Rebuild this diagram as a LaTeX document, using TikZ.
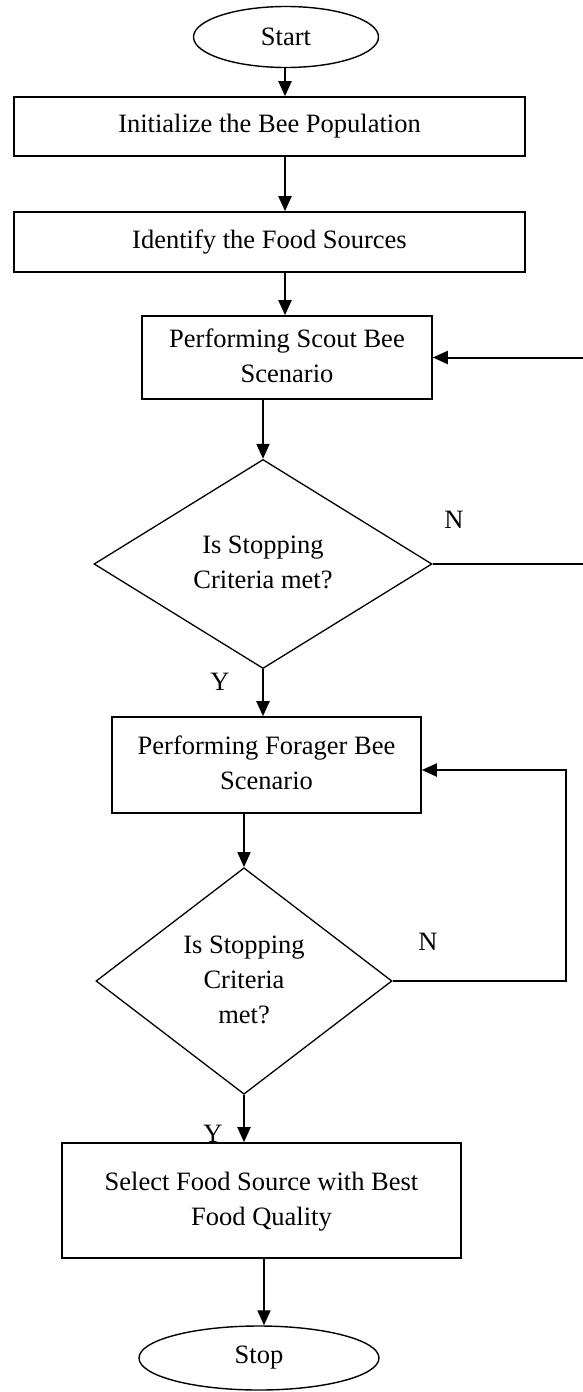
\documentclass[tikz,border=0pt]{standalone}
\usepackage{fontspec}
\setmainfont{Liberation Serif}
\usetikzlibrary{shapes.geometric,arrows.meta}
\newcommand\mlines[2]{\raisebox{#1}{\begin{tabular}{@{}c@{}}#2\end{tabular}}}
\begin{document}
\begin{tikzpicture}[x=1pt,y=-1pt,
  every node/.style={font={\fontsize{26.5}{35}\selectfont}, inner sep=0pt},
  boxnode/.style={draw, line width=1.6pt, rectangle},
  term/.style={draw, line width=1.4pt, ellipse},
  decis/.style={draw, line width=1.3pt, diamond},
  arr/.style={line width=2pt, -{Triangle[length=15pt,width=13pt]}}
]
\useasboundingbox (0,0) rectangle (582,1392);

\node[term, minimum width=185pt, minimum height=61pt] (start) at (286,37) {Start};
\node[boxnode, minimum width=511pt, minimum height=59pt] (init) at (269.5,126.5) {Initialize the Bee Population};
\node[boxnode, minimum width=511pt, minimum height=60pt] (ident) at (269.5,242) {\raisebox{4pt}{Identify the Food Sources}};
\node[boxnode, minimum width=290pt, minimum height=83pt] (scout) at (287,357.5) {\mlines{-3pt}{Performing Scout Bee\\Scenario}};
\node[decis, minimum width=338pt, minimum height=200pt] (d1) at (263,564) {\mlines{9pt}{Is Stopping\\Criteria met?}};
\node[boxnode, minimum width=309pt, minimum height=96pt] (forager) at (266.5,765) {\mlines{4.5pt}{Performing Forager Bee\\Scenario}};
\node[decis, minimum width=296pt, minimum height=218pt] (d2) at (244,981) {\mlines{0pt}{Is Stopping\\Criteria\\met?}};
\node[boxnode, minimum width=399pt, minimum height=115pt] (select) at (261.5,1200.5) {\mlines{12pt}{Select Food Source with Best\\Food Quality}};
\node[term, minimum width=240pt, minimum height=64pt] (stop) at (259,1358) {Stop};

\node (n1) at (454,520) {N};
\node (n2) at (428,942) {N};
\node (y1) at (220,682) {Y};
\node (y2) at (213,1134) {Y};

\coordinate (ax) at (285,0);
\coordinate (bx) at (264,0);
\coordinate (r1) at (585,0);
\coordinate (r2) at (566,770);

\draw[arr] (start.south -| ax) -- (init.north -| ax);
\draw[arr] (init.south -| ax) -- (ident.north -| ax);
\draw[arr] (ident.south -| ax) -- (scout.north -| ax);
\draw[arr] (scout.south -| d1.north) -- (d1.north);
\draw[arr] (d1.south) -- (d1.south |- forager.north);
\draw[arr] (forager.south -| d2.north) -- (d2.north);
\draw[arr] (d2.south) -- (d2.south |- select.north);
\draw[arr] (select.south -| bx) -- (stop.north -| bx);
\draw[arr] (d1.east) -- (d1.east -| r1) -- (scout.east -| r1) -- (scout.east);
\draw[arr] (d2.east) -| (r2) -- (r2 -| forager.east);
\end{tikzpicture}
\end{document}
